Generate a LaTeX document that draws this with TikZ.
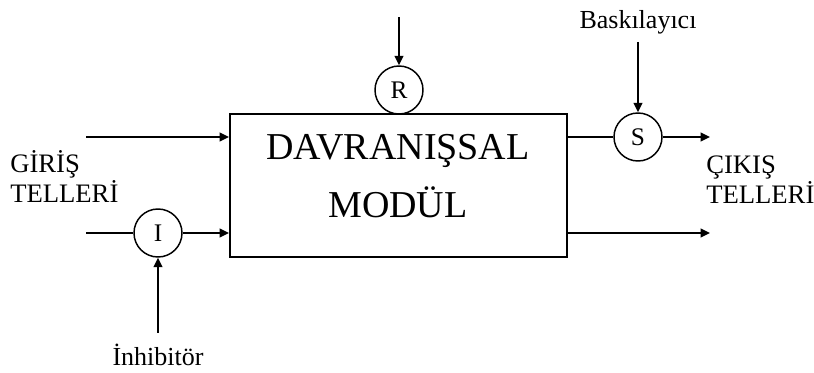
\documentclass[tikz,border=0pt]{standalone}
\usepackage{fontspec}
\setmainfont{Liberation Serif}
\usepackage{tikz}
\usetikzlibrary{arrows.meta, positioning, calc}

\tikzset{
    sig/.style={-{Triangle[length=7pt,width=6.5pt]}, line width=1.3pt},
    wire/.style={line width=1.3pt},
    gate/.style={draw, circle, line width=1.1pt, minimum size=36pt, inner sep=0pt, font=\fontsize{19}{21}\selectfont},
}

\begin{document}
\begin{tikzpicture}[x=0.75pt, y=-0.75pt]
    \useasboundingbox (0,0) rectangle (814,372);
    % behaviour module
    \node[draw, line width=1.4pt, minimum width=252.75pt, minimum height=107.25pt] (M) at (398.5,185.5) {};
    \node[align=center, font=\fontsize{28.5}{43.5}\selectfont, anchor=base] (Mtxt) at (398,217) {DAVRANIŞSAL\\MODÜL};
    % gates
    \node[gate] (R) at (399,90) {R};
    \node[gate] (S) at (638,137) {S};
    \node[gate] (I) at (158,233) {I};
    % texts
    \node[font=\fontsize{19.5}{22}\selectfont, anchor=base, inner ysep=6pt] (bask) at (638,28) {Baskılayıcı};
    \node[font=\fontsize{19.5}{22}\selectfont, anchor=base, inner ysep=8pt] (inh) at (158,365) {İnhibitör};
    \node[font=\fontsize{20}{22}\selectfont, align=left, anchor=base west, inner sep=0pt] (giris) at (10,202) {GİRİŞ\\TELLERİ};
    \node[font=\fontsize{20}{22}\selectfont, align=left, anchor=base west, inner sep=0pt] (cikis) at (706,203) {ÇIKIŞ\\TELLERİ};
    % free ends
    \coordinate (rIn) at (399,17);
    \coordinate (inA) at (86,137);
    \coordinate (inB) at (86,233);
    \coordinate (outA) at (710,137);
    \coordinate (outB) at (710,233);
    % connectors
    \draw[sig] (rIn) -- (R);
    \draw[sig] (bask) -- (S);
    \draw[sig] (inh) -- (I);
    \draw[sig] (inA) -- (inA -| M.west);
    \draw[wire] (inB) -- (I);
    \draw[sig] (I) -- (I -| M.west);
    \draw[wire] (M.east |- S) -- (S);
    \draw[sig] (S) -- (outA);
    \draw[sig] (M.east |- outB) -- (outB);
\end{tikzpicture}
\end{document}
